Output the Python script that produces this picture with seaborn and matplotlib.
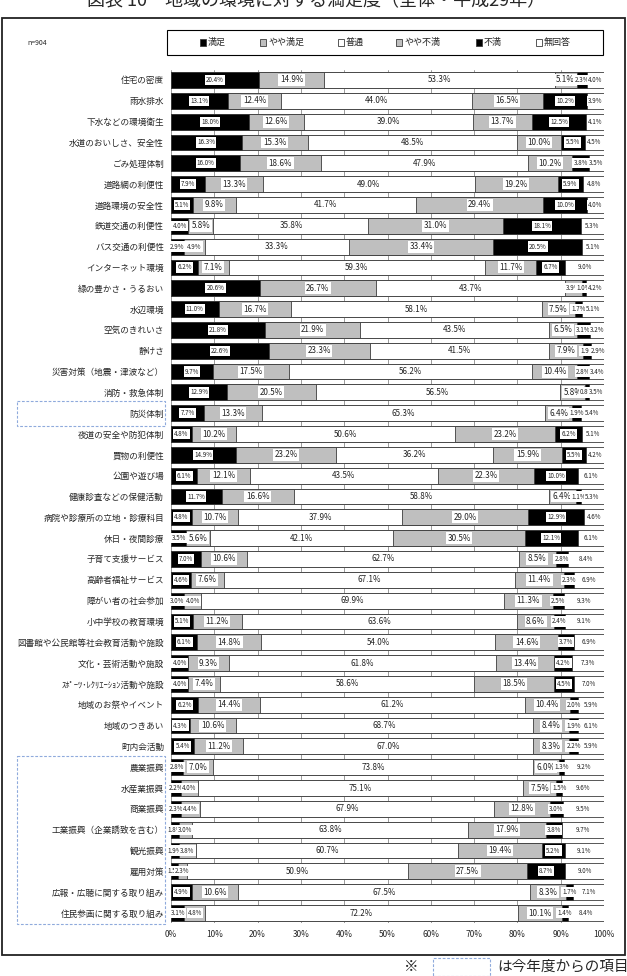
import numpy as np
import pandas as pd
import matplotlib
matplotlib.use("Agg")
import matplotlib.pyplot as plt
import matplotlib.transforms as mtrans
from matplotlib.patches import Rectangle
import seaborn as sns

# ---------------- data ----------------
categories = [
    "住宅の密度", "雨水排水", "下水などの環境衛生", "水道のおいしさ、安全性", "ごみ処理体制",
    "道路網の利便性", "道路環境の安全性", "鉄道交通の利便性", "バス交通の利便性", "インターネット環境",
    "緑の豊かさ・うるおい", "水辺環境", "空気のきれいさ", "静けさ", "災害対策（地震・津波など）",
    "消防・救急体制", "防災体制", "夜道の安全や防犯体制", "買物の利便性", "公園や遊び場",
    "健康診査などの保健活動", "病院や診療所の立地・診療科目", "休日・夜間診療", "子育て支援サービス",
    "高齢者福祉サービス", "障がい者の社会参加", "小中学校の教育環境", "図書館や公民館等社会教育活動や施設",
    "文化・芸術活動や施設", "ｽﾎﾟｰﾂ･ﾚｸﾘｴｰｼｮﾝ活動や施設", "地域のお祭やイベント", "地域のつきあい",
    "町内会活動", "農業振興", "水産業振興", "商業振興", "工業振興（企業誘致を含む）", "観光振興",
    "雇用対策", "広報・広聴に関する取り組み", "住民参画に関する取り組み",
]
satisfied = [20.4, 13.1, 18.0, 16.3, 16.0, 7.9, 5.1, 4.0, 2.9, 6.2, 20.6, 11.0, 21.8, 22.6, 9.7,
             12.9, 7.7, 4.8, 14.9, 6.1, 11.7, 4.8, 3.5, 7.0, 4.6, 3.0, 5.1, 6.1, 4.0, 4.0, 6.2,
             4.3, 5.4, 2.8, 2.2, 2.3, 1.8, 1.9, 1.5, 4.9, 3.1]
somewhat_satisfied = [14.9, 12.4, 12.6, 15.3, 18.6, 13.3, 9.8, 5.8, 4.9, 7.1, 26.7, 16.7, 21.9, 23.3, 17.5,
                      20.5, 13.3, 10.2, 23.2, 12.1, 16.6, 10.7, 5.6, 10.6, 7.6, 4.0, 11.2, 14.8, 9.3, 7.4, 14.4,
                      10.6, 11.2, 7.0, 4.0, 4.4, 3.0, 3.8, 2.3, 10.6, 4.8]
neutral = [53.3, 44.0, 39.0, 48.5, 47.9, 49.0, 41.7, 35.8, 33.3, 59.3, 43.7, 58.1, 43.5, 41.5, 56.2,
           56.5, 65.3, 50.6, 36.2, 43.5, 58.8, 37.9, 42.1, 62.7, 67.1, 69.9, 63.6, 54.0, 61.8, 58.6, 61.2,
           68.7, 67.0, 73.8, 75.1, 67.9, 63.8, 60.7, 50.9, 67.5, 72.2]
somewhat_dissatisfied = [5.1, 16.5, 13.7, 10.0, 10.2, 19.2, 29.4, 31.0, 33.4, 11.7, 3.9, 7.5, 6.5, 7.9, 10.4,
                         5.8, 6.4, 23.2, 15.9, 22.3, 6.4, 29.0, 30.5, 8.5, 11.4, 11.3, 8.6, 14.6, 13.4, 18.5, 10.4,
                         8.4, 8.3, 6.0, 7.5, 12.8, 17.9, 19.4, 27.5, 8.3, 10.1]
dissatisfied = [2.3, 10.2, 12.5, 5.5, 3.8, 5.9, 10.0, 18.1, 20.5, 6.7, 1.0, 1.7, 3.1, 1.9, 2.8,
                0.8, 1.9, 6.2, 5.5, 10.0, 1.1, 12.9, 12.1, 2.8, 2.3, 2.5, 2.4, 3.7, 4.2, 4.5, 2.0,
                1.9, 2.2, 1.3, 1.5, 3.0, 3.8, 5.2, 8.7, 1.7, 1.4]
no_answer = [4.0, 3.9, 4.1, 4.5, 3.5, 4.8, 4.0, 5.3, 5.1, 9.0, 4.2, 5.1, 3.2, 2.9, 3.4,
             3.5, 5.4, 5.1, 4.2, 6.1, 5.3, 4.6, 6.1, 8.4, 6.9, 9.3, 9.1, 6.9, 7.3, 7.0, 5.9,
             6.1, 5.9, 9.2, 9.6, 9.5, 9.7, 9.1, 9.0, 7.1, 8.4]
series_names = ["満足", "やや満足", "普通", "やや不満", "不満", "無回答"]
xtick_values = [0, 10, 20, 30, 40, 50, 60, 70, 80, 90, 100]
xtick_labels = ["0%", "10%", "20%", "30%", "40%", "50%", "60%", "70%", "80%", "90%", "100%"]
sample_note = "n=904"
title_text = "図表 10　地域の環境に対する満足度（全体・平成29年）"

# ---------------- style ----------------
sns.set_theme(style="white")
plt.rcParams["font.family"] = ["Noto Sans CJK JP", "DejaVu Sans"]

colors = ["#000000", "#BFBFBF", "#FFFFFF", "#BFBFBF", "#000000", "#FFFFFF"]
W, H = 627, 976
fig = plt.figure(figsize=(W / 100, H / 100), dpi=100)

def fx(px):
    return px / W

def fy(py):
    return 1 - py / H

row0, rowN = 80.0, 913.0
step = (rowN - row0) / 40
ax_top = row0 - step / 2
ax_bot = rowN + step / 2
ax = fig.add_axes([fx(171), fy(ax_bot), fx(604) - fx(171), (ax_bot - ax_top) / H])

vals = np.array([satisfied, somewhat_satisfied, neutral, somewhat_dissatisfied,
                 dissatisfied, no_answer]).T
valsn = vals / vals.sum(axis=1, keepdims=True) * 100
cum = valsn.cumsum(axis=1)

for j in range(5, -1, -1):
    d = pd.DataFrame({"item": categories, "value": cum[:, j]})
    sns.barplot(data=d, y="item", x="value", order=categories, orient="h",
                color=colors[j], saturation=1, width=0.76, errorbar=None,
                edgecolor="#3c3c3c", linewidth=0.6, ax=ax, zorder=2)

ax.set_xlim(0, 100)
ax.set_ylim(40.5, -0.5)
ax.set_xticks(xtick_values)
ax.set_xticklabels(xtick_labels, fontsize=6)
ax.set_xlabel("")
ax.set_ylabel("")
ax.tick_params(axis="y", length=0, pad=5, labelsize=6.2)
ax.tick_params(axis="x", length=0, pad=5)
for s in ax.spines.values():
    s.set_visible(False)
ax.set_axisbelow(True)
ax.xaxis.grid(True, color="#8a8a8a", linewidth=0.6)
ax.yaxis.grid(False)

# value labels
for i in range(len(categories)):
    for j in range(6):
        v = vals[i, j]
        xc = cum[i, j] - valsn[i, j] / 2
        if j in (0, 4, 5) or v < 5:
            fs = 4.5
        else:
            fs = 5.8
        ax.text(xc, i, f"{v:.1f}%", ha="center", va="center", fontsize=fs,
                color="#222222", zorder=5,
                bbox=dict(boxstyle="square,pad=0.18", fc="white", ec="none"))

# legend (manual)
fig.add_artist(Rectangle((fx(167), fy(55)), fx(603) - fx(167), (55 - 30) / H,
                         transform=fig.transFigure, fill=False, ec="black", lw=0.8))
leg_x = [200, 260, 338, 396, 476, 536]
for name, c, lx in zip(series_names, colors, leg_x):
    fig.add_artist(Rectangle((fx(lx), fy(45.5)), 6 / W, 6 / H, transform=fig.transFigure,
                             fc=c, ec="#3c3c3c", lw=0.6))
    fig.text(fx(lx + 8), fy(42.5), name, fontsize=6.5, va="center", ha="left")

fig.text(fx(27), fy(43), sample_note, fontsize=5, va="center", ha="left")

# dashed boxes around new items
blend = mtrans.blended_transform_factory(fig.transFigure, ax.transData)
box_color = "#8FAADC"
for (r0, r1) in [(16 - 0.6, 16 + 0.6), (33 - 0.55, 40 + 0.55)]:
    fig.add_artist(Rectangle((fx(17), r0), fx(165) - fx(17), r1 - r0, transform=blend,
                             fill=False, ec=box_color, lw=0.8, ls=(0, (2.5, 1.5)),
                             clip_on=False))

# outer frame
fig.add_artist(Rectangle((fx(2), fy(955)), fx(625) - fx(2), (955 - 18) / H,
                         transform=fig.transFigure, fill=False, ec="#222222", lw=1.3))

# title (partially cut off at top, as in the source)
fig.text(fx(87), fy(6), title_text, fontsize=13, va="baseline", ha="left")

# bottom note
fig.text(fx(404), fy(967), "※", fontsize=10.5, va="center", ha="left")
fig.add_artist(Rectangle((fx(433), fy(976)), fx(490) - fx(433), (976 - 958) / H,
                         transform=fig.transFigure, fill=False, ec=box_color, lw=0.8,
                         ls=(0, (2.5, 1.5))))
fig.text(fx(497), fy(967), "は今年度からの項目", fontsize=10.5, va="center", ha="left")

fig.savefig("out.png", dpi=100)
